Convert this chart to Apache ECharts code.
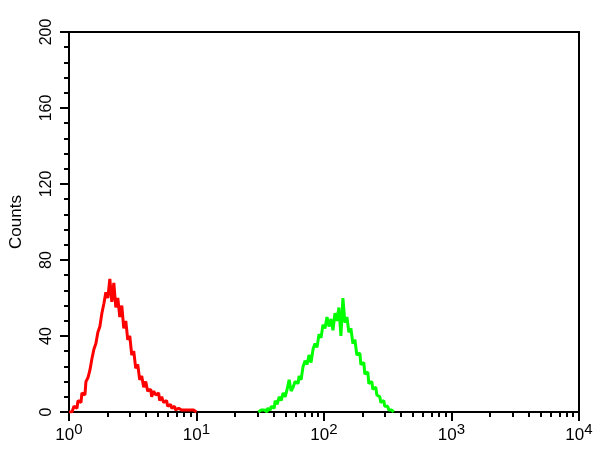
<!DOCTYPE html>
<html>
<head>
<meta charset="utf-8">
<script src="https://cdn.jsdelivr.net/npm/echarts@6/dist/echarts.min.js"></script>
<style>html,body{margin:0;padding:0;background:#fff;}#c{width:600px;height:450px;}</style>
</head>
<body>
<div id="c"></div>
<script>
// Histogram: 256 log channels over 4 decades (64 channels per decade)
const channelsPerDecade = 64;
const redStart = 0;
const redCounts = [0,0,1,3,2,6,5,10,9,16,18,22,28,33,36,42,45,52,57,63,60,70,58,68,55,60,50,56,44,48,38,40,30,32,23,25,17,19,13,16,11,12,8,11,9,10,6,8,5,6,3,4,2,3,1,2,1,2,1,1,2,1,1,1,0];
const greenStart = 95;
const greenCounts = [0,1,0,1,0,2,1,3,2,6,4,8,6,10,8,12,17,11,13,16,15,19,17,24,27,25,30,26,33,36,34,41,39,46,44,50,45,49,43,52,48,55,40,60,47,50,42,44,36,38,30,31,25,26,20,21,15,16,12,13,9,8,5,6,3,3,1,1,0];
const yTicks = [0,40,80,120,160,200];
const xMajorTicks = [1,10,100,1000,10000];
const xMinorTicks = [];
[1,10,100,1000].forEach(d => { for (let k = 2; k <= 9; k++) xMinorTicks.push(d * k); });

function toPoints(start, counts) {
  return counts.map((v, i) => [Math.pow(10, (start + i) / channelsPerDecade), v]);
}

const chart = echarts.init(document.getElementById('c'));
const font = 'Liberation Sans, Arial, sans-serif';
chart.setOption({
  animation: false,
  grid: { left: 66, top: 32, right: 21, bottom: 38, show: true, borderColor: '#000', borderWidth: 2, backgroundColor: '#fff' },
  xAxis: [{
    type: 'log', logBase: 10, min: 1, max: 10000,
    axisLine: { show: true, lineStyle: { color: '#000', width: 2 } },
    axisTick: { show: true, customValues: xMajorTicks, length: 9, lineStyle: { color: '#000', width: 2 } },
    splitLine: { show: false },
    axisLabel: {
      customValues: xMajorTicks, margin: 10, color: '#000', fontFamily: font,
      formatter: v => '{b|10}{s|' + Math.round(Math.log10(v)) + '}',
      rich: {
        b: { fontSize: 17, fontFamily: font, color: '#000', verticalAlign: 'bottom', lineHeight: 22 },
        s: { fontSize: 15, fontFamily: font, color: '#000', verticalAlign: 'top', lineHeight: 22 }
      }
    }
  }, {
    type: 'log', logBase: 10, min: 1, max: 10000, position: 'bottom',
    axisLine: { show: false },
    axisTick: { show: true, customValues: xMinorTicks, length: 5, lineStyle: { color: '#000', width: 2 } },
    axisLabel: { show: false },
    splitLine: { show: false }
  }],
  yAxis: {
    type: 'value', min: 0, max: 200, interval: 40,
    name: 'Counts', nameLocation: 'middle', nameRotate: 90, nameGap: 44,
    nameTextStyle: { fontSize: 17, fontFamily: font, color: '#000' },
    axisLine: { show: true, lineStyle: { color: '#000', width: 2 } },
    axisTick: { show: true, length: 9, lineStyle: { color: '#000', width: 2 } },
    minorTick: { show: true, splitNumber: 5, length: 5, lineStyle: { color: '#000', width: 2 } },
    splitLine: { show: false },
    axisLabel: { rotate: 90, margin: 14, fontSize: 16, fontFamily: font, color: '#000',
      customValues: yTicks }
  },
  series: [{
    type: 'line', xAxisIndex: 0, step: 'middle', showSymbol: false, silent: true,
    data: toPoints(redStart, redCounts),
    lineStyle: { color: '#ff0000', width: 3 }, itemStyle: { color: '#ff0000' }
  }, {
    type: 'line', xAxisIndex: 0, step: 'middle', showSymbol: false, silent: true,
    data: toPoints(greenStart, greenCounts),
    lineStyle: { color: '#00ff00', width: 3 }, itemStyle: { color: '#00ff00' }
  }]
});
</script>
</body>
</html>
